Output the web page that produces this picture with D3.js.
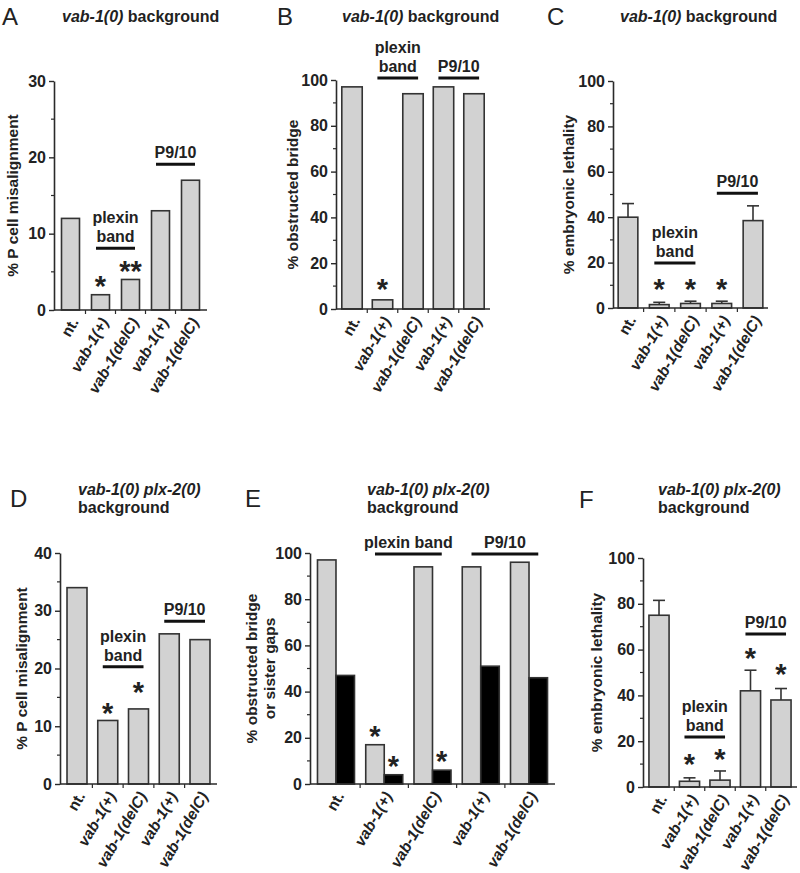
<!DOCTYPE html>
<html><head><meta charset="utf-8">
<script src="https://cdn.jsdelivr.net/npm/d3@7"></script>
<style>
body{margin:0;background:#fff}
text{font-family:"Liberation Sans",Arial,Helvetica,sans-serif;fill:#222}
</style>
</head><body>
<svg id="c" width="800" height="873"></svg>
<script>
// ---------- DATA ----------
const categories = ["nt.", "vab-1(+)", "vab-1(delC)", "vab-1(+)", "vab-1(delC)"];
const valuesA = [12, 2, 4, 13, 17];
const valuesB = [97, 4, 94, 97, 94];
const valuesC = [40, 1.5, 2, 2, 38.5];
const errorsC = [6, 1, 1, 1, 6.5];
const valuesD = [34, 11, 13, 26, 25];
const valuesEbridge = [97, 17, 94, 94, 96];
const valuesEgaps = [47, 4, 6, 51, 46];
const valuesF = [75, 2.5, 3, 42, 38];
const errorsF = [6.5, 1.5, 4, 9, 5];
const ticksA = [0, 10, 20, 30];
const ticksPct = [0, 20, 40, 60, 80, 100];
const ticksD = [0, 10, 20, 30, 40];
// significance stars: [category, series, level, text]
const starsA = [[1, 0, 3.9, "*"], [2, 0, 5.9, "**"]];
const starsB = [[1, 0, 11.4, "*"]];
const starsC = [[1, 0, 11, "*"], [2, 0, 11, "*"], [3, 0, 11, "*"]];
const starsD = [[1, 0, 13.3, "*"], [2, 0, 17, "*"]];
const starsE = [[1, 0, 23.4, "*"], [1, 1, 10.4, "*"], [2, 1, 12.6, "*"]];
const starsF = [[1, 0, 12.7, "*"], [2, 0, 14.8, "*"], [3, 0, 59, "*"], [4, 0, 52, "*"]];
// group brackets: [from, to, level, label lines]
const groupsA = [[1, 2, 8.1, ["plexin", "band"]], [3, 4, 19.1, ["P9/10"]]];
const groupsB = [[1, 2, 100.9, ["plexin", "band"]], [3, 4, 100.9, ["P9/10"]]];
const groupsC = [[1, 2, 19.8, ["plexin", "band"]], [3, 4, 50.6, ["P9/10"]]];
const groupsD = [[1, 2, 20.3, ["plexin", "band"]], [3, 4, 28.2, ["P9/10"]]];
const groupsE = [[1, 2, 99.6, ["plexin band"]], [3, 4, 99.6, ["P9/10"]]];
const groupsF = [[1, 2, 21.8, ["plexin", "band"]], [3, 4, 66.8, ["P9/10"]]];

// ---------- DRAW ----------
const svg = d3.select("#c");
const INK = "#2a2a2a";

function drawPanel(p) {
  const g = svg.append("g");
  const x = d3.scaleBand().domain(d3.range(categories.length))
    .range([p.x0, p.x1]).paddingInner(p.pi).paddingOuter(p.po);
  const y = d3.scaleLinear().domain([0, p.ticks[p.ticks.length - 1]]).range([p.y0, p.y1]);
  const bw = x.bandwidth();
  const sw = bw / p.series.length;

  // bars
  p.series.forEach((vals, si) => {
    g.selectAll(null).data(vals).enter().append("rect")
      .attr("x", (d, i) => x(i) + si * sw)
      .attr("y", d => y(d))
      .attr("width", sw)
      .attr("height", d => y(0) - y(d))
      .attr("fill", si === 0 ? "#d2d2d2" : "#000")
      .attr("stroke", "#333").attr("stroke-width", 1.6);
  });

  // error bars (upper only)
  if (p.err) {
    p.err.forEach((e, i) => {
      const cx = x(i) + bw / 2, v = p.series[0][i];
      g.append("line").attr("x1", cx).attr("x2", cx).attr("y1", y(v)).attr("y2", y(v + e))
        .attr("stroke", "#333").attr("stroke-width", 1.6);
      g.append("line").attr("x1", cx - 6).attr("x2", cx + 6).attr("y1", y(v + e)).attr("y2", y(v + e))
        .attr("stroke", "#333").attr("stroke-width", 1.6);
    });
  }

  // y axis
  const ya = d3.axisLeft(y).tickValues(p.ticks).tickSize(5).tickSizeOuter(0).tickPadding(3);
  const gy = g.append("g").attr("transform", `translate(${p.x0},0)`).call(ya);
  gy.select(".domain").attr("stroke", INK).attr("stroke-width", 1.6);
  gy.selectAll(".tick line").attr("stroke", INK).attr("stroke-width", 1.4);
  gy.selectAll(".tick text").style("font-size", "16px").style("font-weight", "bold")
    .style("font-family", "'Liberation Sans',Arial,sans-serif").attr("fill", "#222");
  // minor ticks
  const step = p.ticks[1] - p.ticks[0];
  const minors = p.ticks.slice(0, -1).map(t => t + step / 2);
  g.selectAll(null).data(minors).enter().append("line")
    .attr("x1", p.x0 - 3).attr("x2", p.x0).attr("y1", d => y(d)).attr("y2", d => y(d))
    .attr("stroke", INK).attr("stroke-width", 1.2);

  // x axis line and boundary ticks
  g.append("line").attr("x1", p.x0).attr("x2", p.x1).attr("y1", y(0)).attr("y2", y(0))
    .attr("stroke", INK).attr("stroke-width", 1.6);
  const gap = x.step() - bw;
  g.selectAll(null).data(d3.range(1, categories.length)).enter().append("line")
    .attr("x1", i => x(i) - gap / 2).attr("x2", i => x(i) - gap / 2)
    .attr("y1", y(0)).attr("y2", y(0) + 4)
    .attr("stroke", INK).attr("stroke-width", 1.2);

  // x labels
  categories.forEach((c, i) => {
    g.append("text")
      .attr("transform", `translate(${x(i) + bw / 2 + 4},${y(0) + 9}) rotate(-60)`)
      .attr("text-anchor", "end").attr("dy", "0.35em")
      .style("font-size", "15.5px").style("font-weight", "bold")
      .style("font-style", i === 0 ? "normal" : "italic")
      .text(c);
  });

  // stars
  p.stars.forEach(([ci, si, lvl, t]) => {
    const cx = x(ci) + (p.series.length > 1 ? si * sw + sw / 2 : bw / 2);
    g.append("text").attr("x", cx).attr("y", y(lvl) + 16)
      .attr("text-anchor", "middle").style("font-size", "29px").style("font-weight", "bold")
      .attr("fill", "#111").text(t);
  });

  // group brackets
  p.groups.forEach(([a, b, lvl, lines]) => {
    const xa = x(a) + bw * 0.25, xb = x(b) + bw * 0.75, ly = y(lvl);
    g.append("line").attr("x1", xa).attr("x2", xb).attr("y1", ly).attr("y2", ly)
      .attr("stroke", "#111").attr("stroke-width", 3);
    lines.slice().reverse().forEach((ln, k) => {
      g.append("text").attr("x", (xa + xb) / 2).attr("y", ly - 6 - k * 19)
        .attr("text-anchor", "middle").style("font-size", "16px").style("font-weight", "bold")
        .text(ln);
    });
  });

  // y label
  const ymid = (p.y0 + p.y1) / 2;
  p.ylabel.forEach((ln, k) => {
    g.append("text")
      .attr("transform", `translate(${p.ylx[k]},${ymid}) rotate(-90)`)
      .attr("text-anchor", "middle").attr("dy", "0.35em")
      .style("font-size", "15.5px").style("font-weight", "bold").text(ln);
  });

  // panel letter
  g.append("text").attr("x", p.lx).attr("y", p.ly).style("font-size", "24px").text(p.letter);

  // title
  p.title.forEach((parts, k) => {
    const t = g.append("text").attr("x", p.tx).attr("y", p.ty + k * 18)
      .style("font-size", "16px").style("font-weight", "bold");
    parts.forEach(([s, it]) => t.append("tspan").style("font-style", it ? "italic" : "normal").text(s));
  });
}

const titleTop = [[["vab-1(0)", true], [" background", false]]];
const titleBot = [[["vab-1(0) plx-2(0)", true]], [["background", false]]];

drawPanel({x0: 54, x1: 207, y0: 310, y1: 81, pi: 0.4, po: 0.25, ticks: ticksA,
  series: [valuesA], stars: starsA, groups: groupsA, ylabel: ["% P cell misalignment"], ylx: [13],
  letter: "A", lx: 2, ly: 25, title: titleTop, tx: 62, ty: 22});
drawPanel({x0: 336, x1: 490, y0: 309, y1: 80, pi: 0.33, po: 0.19, ticks: ticksPct,
  series: [valuesB], stars: starsB, groups: groupsB, ylabel: ["% obstructed bridge"], ylx: [293],
  letter: "B", lx: 277, ly: 25, title: titleTop, tx: 342, ty: 22});
drawPanel({x0: 613, x1: 768, y0: 308, y1: 81, pi: 0.37, po: 0.165, ticks: ticksPct,
  series: [valuesC], err: errorsC, stars: starsC, groups: groupsC, ylabel: ["% embryonic lethality"], ylx: [569],
  letter: "C", lx: 547, ly: 25, title: titleTop, tx: 620, ty: 22});
drawPanel({x0: 60, x1: 217, y0: 784, y1: 553, pi: 0.35, po: 0.228, ticks: ticksD,
  series: [valuesD], stars: starsD, groups: groupsD, ylabel: ["% P cell misalignment"], ylx: [22],
  letter: "D", lx: 10, ly: 507, title: titleBot, tx: 78, ty: 495});
drawPanel({x0: 310, x1: 555, y0: 784, y1: 553, pi: 0.233, po: 0.155, ticks: ticksPct,
  series: [valuesEbridge, valuesEgaps], stars: starsE, groups: groupsE,
  ylabel: ["% obstructed bridge", "or sister gaps"], ylx: [252, 270],
  letter: "E", lx: 245, ly: 507, title: titleBot, tx: 367, ty: 495});
drawPanel({x0: 643, x1: 797, y0: 787, y1: 558, pi: 0.34, po: 0.195, ticks: ticksPct,
  series: [valuesF], err: errorsF, stars: starsF, groups: groupsF, ylabel: ["% embryonic lethality"], ylx: [597],
  letter: "F", lx: 579, ly: 508, title: titleBot, tx: 658, ty: 495});
</script>
</body></html>
